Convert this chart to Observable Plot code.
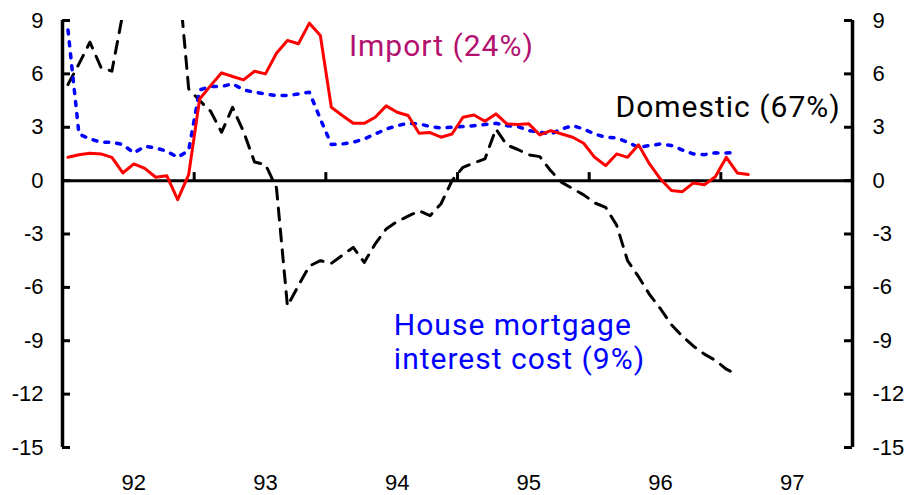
<!DOCTYPE html>
<html><head><meta charset="utf-8">
<script src="https://cdn.jsdelivr.net/npm/d3@7"></script>
<script src="https://cdn.jsdelivr.net/npm/@observablehq/plot@0.6"></script>
<style>
html,body{margin:0;padding:0;background:#fff;}
g[aria-label="text"] text{letter-spacing:1px;}
</style></head><body><div id="chart"></div>
<script>
// Monthly values, index 0 = Jan 1992
const importVals = [1.31,1.45,1.54,1.50,1.31,0.43,0.94,0.69,0.19,0.28,-1.07,0.34,4.59,5.34,6.06,5.85,5.66,6.15,6.00,7.16,7.88,7.69,8.85,8.16,4.12,3.66,3.22,3.22,3.56,4.20,3.84,3.66,2.66,2.70,2.44,2.62,3.56,3.69,3.34,3.75,3.19,3.15,3.19,2.57,2.81,2.62,2.44,2.10,1.31,0.84,1.50,1.31,2.01,0.94,0.09,-0.56,-0.62,-0.13,-0.23,0.22,1.31,0.43,0.34];
const domesticVals = [5.4,6.56,7.78,6.37,6.15,9.4,11.5,13,13.5,13.5,12,5.16,4.5,3.9,2.72,4.12,2.75,1.05,0.9,-0.4,-7.05,-5.9,-4.8,-4.5,-4.65,-4.2,-3.75,-4.6,-3.56,-2.72,-2.3,-2.0,-1.69,-1.97,-1.3,0.0,0.75,1.0,1.22,2.9,2.0,1.75,1.45,1.35,0.55,-0.1,-0.45,-0.8,-1.25,-1.5,-2.5,-4.5,-5.4,-6.4,-7.2,-8.1,-8.75,-9.3,-9.75,-10.1,-10.6,-10.9];
const mortgageVals = [8.47,2.62,2.34,2.16,2.16,2.03,1.55,1.93,1.84,1.65,1.31,1.7,5.10,5.29,5.29,5.44,5.10,4.97,4.87,4.78,4.78,4.87,4.97,3.47,2.03,2.06,2.16,2.34,2.62,2.90,3.09,3.22,3.19,3.04,2.96,3.00,3.04,3.09,3.15,3.22,3.09,3.04,2.81,2.72,2.62,2.90,3.09,2.90,2.62,2.44,2.40,2.16,1.87,1.97,2.06,1.97,1.72,1.50,1.46,1.56,1.55,1.59];
const yearLabels = ["92","93","94","95","96","97"];
const yTicks = [-15,-12,-9,-6,-3,0,3,6,9];

const rows = (vals) => vals.map((v, i) => ({month: i, value: v}));
const xDomain = [-0.5, 71.5];
const yearMid = yearLabels.map((_, k) => 6 + 12 * k);
const yearEdges = yearLabels.slice(1).map((_, k) => 11.5 + 12 * k);

const chart = Plot.plot({
  width: 911, height: 495,
  marginLeft: 62, marginRight: 59, marginTop: 20, marginBottom: 48,
  x: {domain: xDomain},
  y: {domain: [-15, 9]},
  style: {fontFamily: "'Liberation Sans', Arial, sans-serif", fontSize: "22px", color: "#000", background: "#fff"},
  marks: [
    Plot.ruleY([0], {stroke: "#000", strokeWidth: 3}),
    Plot.ruleX(yearEdges, {y1: 0, y2: 0, insetTop: -8, stroke: "#000", strokeWidth: 3}),
    Plot.ruleX(xDomain, {y1: -15, y2: 9, stroke: "#000", strokeWidth: 3.5}),
    Plot.ruleY(yTicks, {x1: xDomain[0], x2: xDomain[0], insetRight: -8, stroke: "#000", strokeWidth: 3}),
    Plot.ruleY(yTicks, {x1: xDomain[1], x2: xDomain[1], insetLeft: -8, stroke: "#000", strokeWidth: 3}),
    Plot.axisY(yTicks, {anchor: "left", tickSize: 0, tickPadding: 19, label: null, fontSize: 22, tickFormat: d => String(d)}),
    Plot.axisY(yTicks, {anchor: "right", tickSize: 0, tickPadding: 20, label: null, fontSize: 22, tickFormat: d => String(d)}),
    Plot.axisX(yearMid, {anchor: "bottom", tickSize: 0, tickPadding: 27, label: null, fontSize: 22, tickFormat: d => yearLabels[(d - 6) / 12]}),
    Plot.line(rows(domesticVals), {x: "month", y: "value", stroke: "#000", strokeWidth: 3, strokeDasharray: "12,9", clip: true}),
    Plot.line(rows(mortgageVals), {x: "month", y: "value", stroke: "#0000ff", strokeWidth: 3.5, strokeDasharray: "4,8"}),
    Plot.line(rows(importVals), {x: "month", y: "value", stroke: "#ff0000", strokeWidth: 3}),
    Plot.text(["Import (24%)"], {x: 25.6, y: 7.03, text: d => d, textAnchor: "start", lineAnchor: "bottom", fill: "#b3126f", fontSize: 30, fontFamily: "Roboto"}),
    Plot.text(["Domestic (67%)"], {x: 49.9, y: 3.6, text: d => d, textAnchor: "start", lineAnchor: "bottom", fill: "#000", fontSize: 30, fontFamily: "Roboto"}),
    Plot.text(["House mortgage\ninterest cost (9%)"], {x: 29.7, y: -10.59, text: d => d, textAnchor: "start", lineAnchor: "bottom", lineHeight: 1.14, fill: "#0000ff", fontSize: 30, fontFamily: "Roboto"})
  ]
});
document.getElementById("chart").appendChild(chart);
</script></body></html>
